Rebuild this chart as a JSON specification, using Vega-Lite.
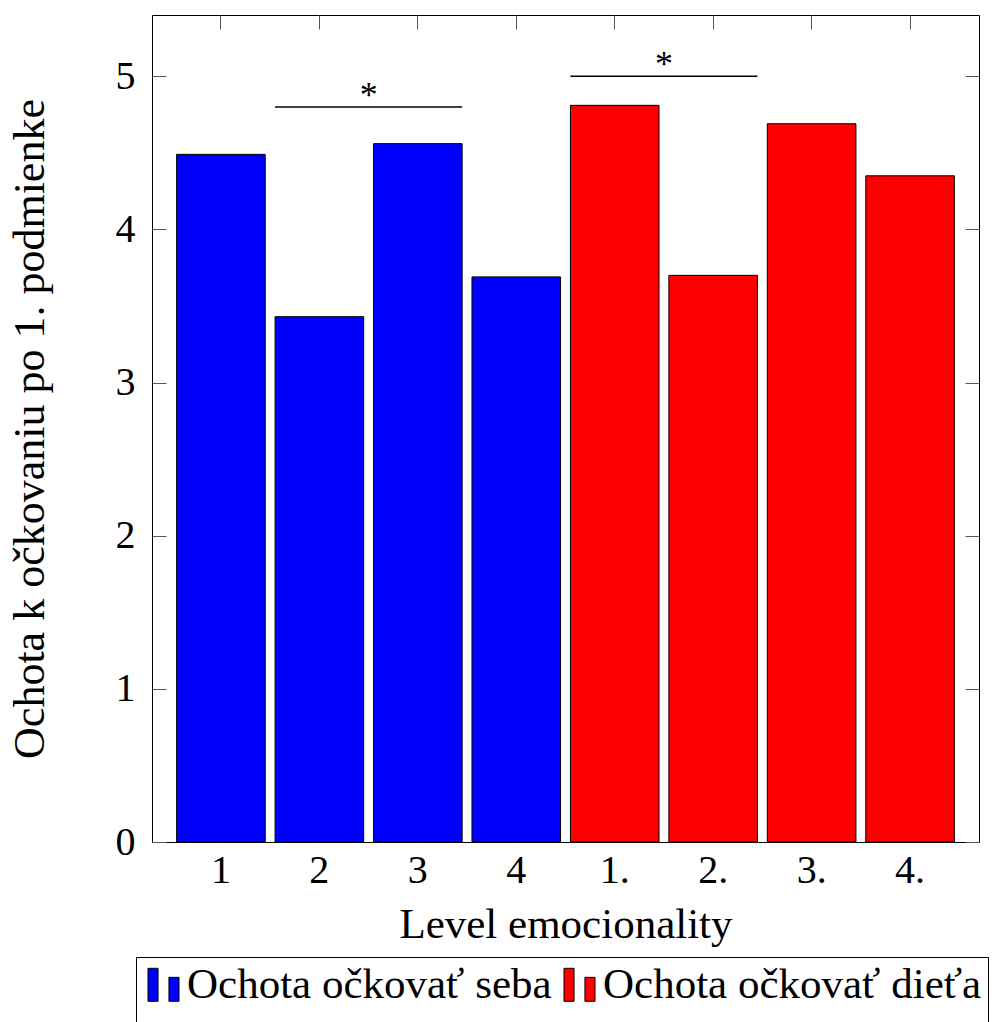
{
  "$schema": "https://vega.github.io/schema/vega-lite/v6.json",
  "width": 827,
  "height": 827,
  "autosize": {"type": "none"},
  "padding": {"left": 152, "top": 15, "right": 13, "bottom": 180},
  "background": "white",
  "config": {
    "view": {"stroke": "black", "strokeWidth": 1},
    "font": "Liberation Serif",
    "axis": {"domain": false, "grid": false, "tickColor": "#555", "tickWidth": 1, "tickSize": -14, "labelFont": "Liberation Serif", "titleFont": "Liberation Serif", "labelColor": "black", "titleColor": "black", "titleFontWeight": "normal"},
    "legend": {"labelFont": "Liberation Serif"}
  },
  "datasets": {
    "bars": [
      {"level": "1", "group": "Ochota očkovať seba", "value": 4.49},
      {"level": "2", "group": "Ochota očkovať seba", "value": 3.43},
      {"level": "3", "group": "Ochota očkovať seba", "value": 4.56},
      {"level": "4", "group": "Ochota očkovať seba", "value": 3.69},
      {"level": "1.", "group": "Ochota očkovať dieťa", "value": 4.81},
      {"level": "2.", "group": "Ochota očkovať dieťa", "value": 3.70},
      {"level": "3.", "group": "Ochota očkovať dieťa", "value": 4.69},
      {"level": "4.", "group": "Ochota očkovať dieťa", "value": 4.35}
    ],
    "sig": [
      {"from": "2", "to": "3", "y": 4.8, "mark": "*"},
      {"from": "1.", "to": "2.", "y": 5.0, "mark": "*"}
    ]
  },
  "resolve": {"axis": {"x": "independent", "y": "independent"}},
  "layer": [
    {
      "data": {"name": "bars"},
      "mark": {"type": "bar", "stroke": "black", "strokeWidth": 1},
      "encoding": {
        "x": {
          "field": "level", "type": "nominal",
          "scale": {"domain": ["1", "2", "3", "4", "1.", "2.", "3.", "4."], "paddingInner": 0.1, "paddingOuter": 0.25},
          "axis": {"orient": "bottom", "labelAngle": 0, "labelFontSize": 40, "labelPadding": 22, "labelBaseline": "top", "title": "Level emocionality", "titleFontSize": 43, "titleBaseline": "alphabetic", "titleY": 95}
        },
        "y": {
          "field": "value", "type": "quantitative",
          "scale": {"domain": [0, 5.4], "nice": false, "zero": true},
          "axis": {"orient": "left", "values": [0, 1, 2, 3, 4, 5], "labelFontSize": 40, "labelPadding": 31, "title": "Ochota k očkovaniu po 1. podmienke", "titleFontSize": 44, "titleBaseline": "alphabetic", "titleX": -109}
        },
        "color": {
          "field": "group", "type": "nominal",
          "scale": {"domain": ["Ochota očkovať seba", "Ochota očkovať dieťa"], "range": ["#0000ff", "#ff0000"]},
          "legend": {
            "title": null, "orient": "none", "legendX": -16, "legendY": 942, "direction": "horizontal",
            "strokeColor": "black", "padding": 6, "labelFontSize": 43, "labelColor": "black", "labelLimit": 0,
            "symbolType": "M-0.94,-1H-0.33V1H-0.94Z M0.33,-0.45H0.94V1H0.33Z M0.94,2.6",
            "symbolSize": 1089, "symbolStrokeColor": "black", "symbolStrokeWidth": 1, "symbolOpacity": 1,
            "columnPadding": 6, "labelOffset": 2
          }
        }
      }
    },
    {
      "data": {"name": "sig"},
      "mark": {"type": "rule", "stroke": "black", "strokeWidth": 1.5},
      "encoding": {
        "x": {
          "field": "from", "type": "nominal", "bandPosition": 0,
          "scale": {"domain": ["1", "2", "3", "4", "1.", "2.", "3.", "4."], "paddingInner": 0.1, "paddingOuter": 0.25},
          "axis": {"orient": "top", "labels": false, "title": null}
        },
        "x2": {"field": "to", "bandPosition": 1},
        "y": {
          "field": "y", "type": "quantitative",
          "scale": {"domain": [0, 5.4], "nice": false, "zero": true},
          "axis": {"orient": "right", "values": [0, 1, 2, 3, 4, 5], "labels": false, "title": null}
        }
      }
    },
    {
      "data": {"name": "sig"},
      "mark": {"type": "text", "fontSize": 36, "baseline": "alphabetic", "align": "center", "color": "black"},
      "encoding": {
        "x": {"field": "from", "type": "nominal", "bandPosition": 1.056, "axis": null},
        "y": {"field": "y", "type": "quantitative", "axis": null},
        "text": {"field": "mark"}
      }
    }
  ]
}
